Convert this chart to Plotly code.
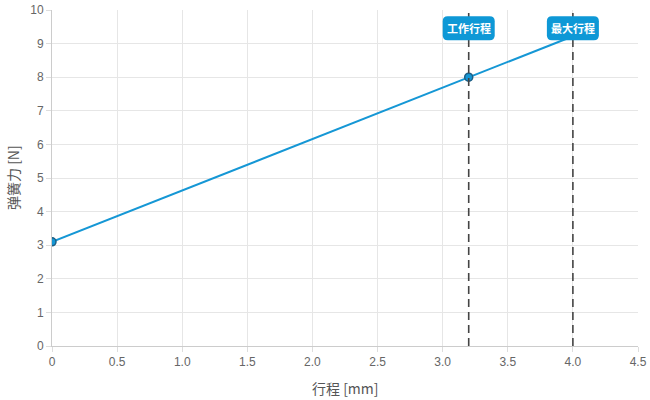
import plotly.graph_objects as go

# Data
stroke_mm = [0, 3.2, 4.0]
force_n = [3.1, 8.0, 9.22]
marker_x = [0, 3.2]
marker_y = [3.1, 8.0]
ref_lines_x = [3.2, 4.0]
ref_labels = ["工作行程", "最大行程"]
label_y = 9.46
x_tickvals = [0, 0.5, 1.0, 1.5, 2.0, 2.5, 3.0, 3.5, 4.0, 4.5]
x_ticktext = ["0", "0.5", "1.0", "1.5", "2.0", "2.5", "3.0", "3.5", "4.0", "4.5"]
x_title = "行程 [mm]"
y_title = "弹簧力 [N]"

LINE_C = "#1597d5"
FONT = "Liberation Sans, Noto Sans CJK SC, sans-serif"
CJK = "Noto Sans CJK SC, sans-serif"

fig = go.Figure()
fig.add_trace(go.Scatter(x=stroke_mm, y=force_n, mode="lines",
                         line=dict(color=LINE_C, width=2), hoverinfo="skip"))
fig.add_trace(go.Scatter(x=marker_x, y=marker_y, mode="markers",
                         marker=dict(color=LINE_C, size=8,
                                     line=dict(color="#1d5d82", width=1.5))))

def rounded_rect(w, h, r):
    x0, x1, y0, y1 = -w / 2, w / 2, -h / 2, h / 2
    return (f"M {x0+r},{y0} L {x1-r},{y0} Q {x1},{y0} {x1},{y0+r} "
            f"L {x1},{y1-r} Q {x1},{y1} {x1-r},{y1} L {x0+r},{y1} "
            f"Q {x0},{y1} {x0},{y1-r} L {x0},{y0+r} Q {x0},{y0} {x0+r},{y0} Z")

shapes = []
annotations = []
for xv, lab in zip(ref_lines_x, ref_labels):
    shapes.append(dict(type="line", xref="x", yref="paper", x0=xv, x1=xv, y0=0, y1=1,
                       line=dict(color="#444444", width=1.6, dash="8px,5px"), layer="above"))
    shapes.append(dict(type="path", xref="x", yref="y", xsizemode="pixel", ysizemode="pixel",
                       xanchor=xv, yanchor=label_y, path=rounded_rect(52, 24, 5),
                       fillcolor="#0e98d6", line=dict(width=0), layer="above"))
    annotations.append(dict(x=xv, y=label_y, xref="x", yref="y", text=f"<b>{lab}</b>",
                            showarrow=False,
                            font=dict(color="white", size=11, family=CJK)))

annotations.append(dict(x=0.5, y=0, xref="paper", yref="paper", yshift=-42,
                        xanchor="center", yanchor="middle", showarrow=False,
                        text=x_title, font=dict(size=14, color="#555555", family=CJK)))
annotations.append(dict(x=0, y=0.5, xref="paper", yref="paper", xshift=-39,
                        xanchor="center", yanchor="middle", showarrow=False, textangle=-90,
                        text=y_title, font=dict(size=14, color="#555555", family=CJK)))

fig.update_layout(
    width=650, height=400,
    margin=dict(l=52, r=12, t=10, b=54, autoexpand=False),
    paper_bgcolor="white", plot_bgcolor="white",
    showlegend=False,
    font=dict(family=FONT, color="#666666", size=12),
    shapes=shapes, annotations=annotations,
    xaxis=dict(range=[0, 4.5], tickvals=x_tickvals, ticktext=x_ticktext,
               automargin=False, ticklabeloverflow="allow",
               showgrid=True, gridcolor="#e6e6e6", gridwidth=1,
               showline=True, linecolor="#cccccc", linewidth=1,
               ticks="outside", ticklen=5, tickcolor="#dddddd",
               zeroline=False, tickfont=dict(size=12, color="#666666")),
    yaxis=dict(range=[0, 10], dtick=1,
               automargin=False, ticklabeloverflow="allow",
               showgrid=True, gridcolor="#e6e6e6", gridwidth=1,
               showline=True, linecolor="#cccccc", linewidth=1,
               ticks="outside", ticklen=5, tickcolor="#dddddd",
               zeroline=False, tickfont=dict(size=12, color="#666666")),
)

fig.write_html("out.html", config={"displayModeBar": False},
               post_script="document.body.style.margin='0';document.body.style.overflow='hidden';")
